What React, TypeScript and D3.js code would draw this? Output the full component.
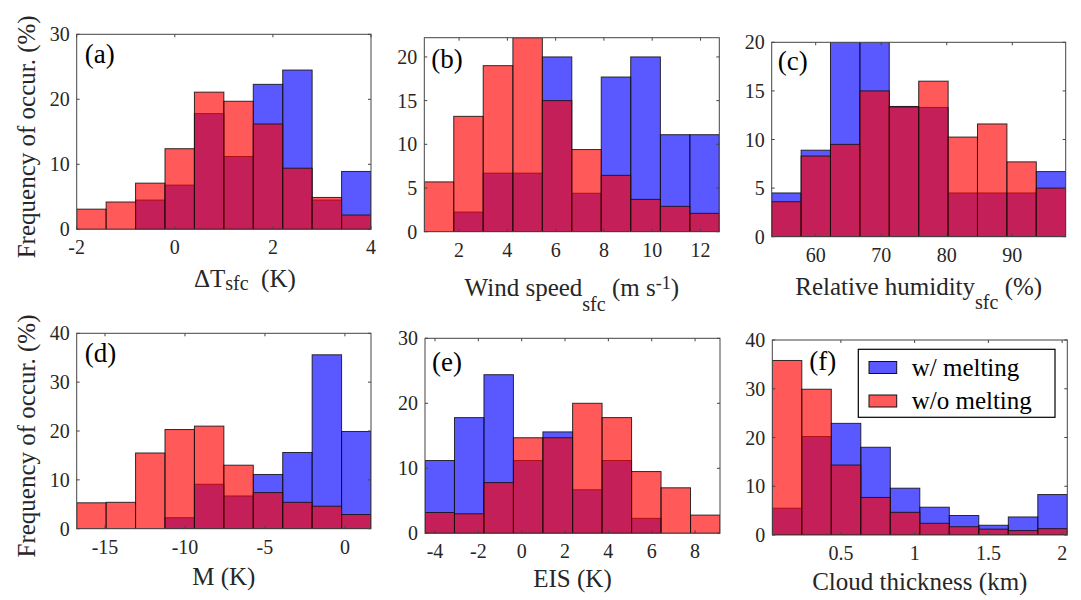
import * as d3 from 'd3';

// bin edges (10 bins per panel)
const edgesA = [-2, -1.4, -0.8, -0.2, 0.4, 1.0, 1.6, 2.2, 2.8, 3.4, 4.0];
const edgesB = [0.56, 1.78, 3.0, 4.23, 5.45, 6.67, 7.89, 9.11, 10.34, 11.56, 12.78];
const edgesC = [53.29, 57.78, 62.26, 66.75, 71.23, 75.72, 80.21, 84.69, 89.18, 93.66, 98.15];
const edgesD = [-16.77, -14.93, -13.09, -11.25, -9.41, -7.57, -5.73, -3.89, -2.05, -0.21, 1.63];
const edgesE = [-4.46, -3.1, -1.74, -0.38, 0.98, 2.35, 3.71, 5.07, 6.43, 7.79, 9.15];
const edgesF = [0.035, 0.235, 0.435, 0.635, 0.835, 1.035, 1.235, 1.435, 1.635, 1.835, 2.035];

// frequency of occurrence (%) with melting (blue) / without melting (red)
const blueA = [0, 0, 4.5, 6.8, 17.8, 11.2, 22.3, 24.5, 4.5, 8.9];
const redA = [3.1, 4.2, 7.1, 12.4, 21.1, 19.7, 16.2, 9.4, 4.9, 2.2];
const blueB = [0, 2.25, 6.7, 6.7, 20.0, 4.4, 17.7, 20.0, 11.1, 11.1];
const redB = [5.7, 13.2, 19.0, 22.2, 15.0, 9.4, 6.45, 3.7, 2.9, 2.1];
const blueC = [4.5, 8.9, 22.2, 22.2, 13.4, 13.3, 4.5, 4.5, 4.5, 6.7];
const redC = [3.6, 8.3, 9.5, 15.0, 13.35, 16.0, 10.25, 11.6, 7.7, 5.0];
const blueD = [0, 0, 0, 2.25, 9.1, 6.7, 11.1, 15.6, 35.6, 19.9];
const redD = [5.3, 5.4, 15.5, 20.3, 21.0, 13.0, 7.4, 5.4, 4.6, 2.9];
const blueE = [11.2, 17.8, 24.4, 11.2, 15.6, 6.7, 11.2, 2.3, 0, 0];
const redE = [3.2, 3.0, 7.8, 14.7, 14.7, 20.0, 17.8, 9.5, 7.0, 2.8];
const blueF = [5.5, 20.2, 22.9, 18.0, 9.6, 5.7, 4.0, 2.0, 3.7, 8.3];
const redF = [35.8, 29.9, 14.35, 7.7, 4.65, 2.4, 1.7, 1.2, 0.9, 1.3];

// tick values
const xTicksA = [-2, 0, 2, 4];
const xTicksB = [2, 4, 6, 8, 10, 12];
const xTicksC = [60, 70, 80, 90];
const xTicksD = [-15, -10, -5, 0];
const xTicksE = [-4, -2, 0, 2, 4, 6, 8];
const xTicksF = [0.5, 1, 1.5, 2];
const yTicks30 = [0, 10, 20, 30];
const yTicks20 = [0, 5, 10, 15, 20];
const yTicks40 = [0, 10, 20, 30, 40];

const legendLabels = ['w/ melting', 'w/o melting'];

const FONT = '"Liberation Serif", "Times New Roman", serif';
const INK = '#262626';
const BLUE = 'rgb(0,0,255)';
const RED = 'rgb(255,0,0)';
const ALPHA = 0.65;

interface Panel {
  id: string;
  box: [number, number, number, number]; // left, top, right, bottom
  edges: number[];
  yMax: number;
  xTicks: number[];
  yTicks: number[];
  blue: number[];
  red: number[];
  tagDx: number;
  tagDy: number;
  labelDx: number;
  labelDy: number;
  yLabel: boolean;
}

const panels: Panel[] = [
  { id: 'a', box: [76.7, 34.3, 371, 229.3], edges: edgesA, yMax: 30, xTicks: xTicksA, yTicks: yTicks30, blue: blueA, red: redA, tagDx: 8, tagDy: 29, labelDx: 21, labelDy: 58, yLabel: true },
  { id: 'b', box: [424.3, 37.7, 719.3, 231.7], edges: edgesB, yMax: 22.2, xTicks: xTicksB, yTicks: yTicks20, blue: blueB, red: redB, tagDx: 7, tagDy: 30, labelDx: 0, labelDy: 64, yLabel: false },
  { id: 'c', box: [771.7, 42.3, 1065.7, 236.7], edges: edgesC, yMax: 20, xTicks: xTicksC, yTicks: yTicks20, blue: blueC, red: redC, tagDx: 6, tagDy: 28, labelDx: 0, labelDy: 58, yLabel: false },
  { id: 'd', box: [76.7, 333.3, 371, 528.7], edges: edgesD, yMax: 40, xTicks: xTicksD, yTicks: yTicks40, blue: blueD, red: redD, tagDx: 8, tagDy: 29, labelDx: 0, labelDy: 56, yLabel: true },
  { id: 'e', box: [425, 338.3, 720, 533.3], edges: edgesE, yMax: 30, xTicks: xTicksE, yTicks: yTicks30, blue: blueE, red: redE, tagDx: 7, tagDy: 33, labelDx: 0, labelDy: 54, yLabel: false },
  { id: 'f', box: [772.3, 340, 1067.3, 535], edges: edgesF, yMax: 40, xTicks: xTicksF, yTicks: yTicks40, blue: blueF, red: redF, tagDx: 37, tagDy: 30, labelDx: 0, labelDy: 55, yLabel: false },
];

function XLabel({ id }: { id: string }) {
  const sub = { fontSize: 20 };
  if (id === 'a')
    return (
      <>
        ΔT<tspan dy={3} style={sub}>sfc</tspan>
        <tspan dy={-3}>{'  (K)'}</tspan>
      </>
    );
  if (id === 'b')
    return (
      <>
        Wind speed<tspan dy={15} style={sub}>sfc</tspan>
        <tspan dy={-15}> (m s</tspan>
        <tspan dy={-7} style={{ fontSize: 18 }}>-1</tspan>
        <tspan dy={7}>)</tspan>
      </>
    );
  if (id === 'c')
    return (
      <>
        Relative humidity<tspan dy={14} style={sub}>sfc</tspan>
        <tspan dy={-14}> (%)</tspan>
      </>
    );
  if (id === 'd') return <>M (K)</>;
  if (id === 'e') return <>EIS (K)</>;
  return <>Cloud thickness (km)</>;
}

function Hist({ p }: { p: Panel }) {
  const [l, t, r, b] = p.box;
  const x = d3.scaleLinear().domain([p.edges[0], p.edges[p.edges.length - 1]]).range([l, r]);
  const y = d3.scaleLinear().domain([0, p.yMax]).range([b, t]);
  const clipId = `clip-${p.id}`;
  const bars = (vals: number[], color: string) =>
    vals.map((v, i) =>
      v > 0 ? (
        <rect
          key={i}
          x={x(p.edges[i])}
          y={y(v)}
          width={x(p.edges[i + 1]) - x(p.edges[i])}
          height={b - y(v)}
          fill={color}
          fillOpacity={ALPHA}
          stroke="#111"
          strokeOpacity={0.85}
          strokeWidth={1}
        />
      ) : null
    );
  const tl = 3;
  return (
    <g>
      <defs>
        <clipPath id={clipId}>
          <rect x={l} y={t} width={r - l} height={b - t} />
        </clipPath>
      </defs>
      <g clipPath={`url(#${clipId})`}>
        {bars(p.blue, BLUE)}
        {bars(p.red, RED)}
      </g>
      {/* box */}
      <rect x={l} y={t} width={r - l} height={b - t} fill="none" stroke="#444" strokeWidth={1} />
      {/* ticks */}
      {p.xTicks.map((v) => (
        <g key={'x' + v}>
          <line x1={x(v)} x2={x(v)} y1={b} y2={b - tl} stroke="#444" />
          <line x1={x(v)} x2={x(v)} y1={t} y2={t + tl} stroke="#444" />
          <text x={x(v)} y={b + 25} textAnchor="middle" fontSize={20} fill={INK}>
            {String(v)}
          </text>
        </g>
      ))}
      {p.yTicks.map((v) => (
        <g key={'y' + v}>
          <line x1={l} x2={l + tl} y1={y(v)} y2={y(v)} stroke="#444" />
          <line x1={r} x2={r - tl} y1={y(v)} y2={y(v)} stroke="#444" />
          <text x={l - 7} y={y(v)} dy="0.35em" textAnchor="end" fontSize={20} fill={INK}>
            {String(v)}
          </text>
        </g>
      ))}
      <text x={l + p.tagDx} y={t + p.tagDy} fontSize={27} fill="#000">
        ({p.id})
      </text>
      <text
        x={(l + r) / 2 + p.labelDx}
        y={b + p.labelDy}
        textAnchor="middle"
        fontSize={25}
        fill={INK}
        style={{ whiteSpace: 'pre' }}
      >
        <XLabel id={p.id} />
      </text>
      {p.yLabel && (
        <text
          transform={`translate(35,${(t + b) / 2 + 5}) rotate(-90)`}
          textAnchor="middle"
          fontSize={25}
          fill={INK}
        >
          Frequency of occur. (%)
        </text>
      )}
    </g>
  );
}

function Legend() {
  const colors = [BLUE, RED];
  return (
    <g>
      <rect x={858.3} y={349.3} width={196.7} height={68} fill="#fff" stroke="#000" strokeWidth={1.2} />
      {legendLabels.map((lab, i) => (
        <g key={lab} transform={`translate(869,${367.5 + i * 33.5})`}>
          <rect x={0} y={-6} width={27.7} height={12} fill={colors[i]} fillOpacity={ALPHA} stroke="#111" />
          <text x={42.7} y={8} fontSize={25} fill="#000">
            {lab}
          </text>
        </g>
      ))}
    </g>
  );
}

export default function App() {
  return (
    <svg
      width={1081}
      height={600}
      style={{ position: 'absolute', left: 0, top: 0, background: '#fff' }}
      fontFamily={FONT}
    >
      <rect width={1081} height={600} fill="#fff" />
      {panels.map((p) => (
        <Hist key={p.id} p={p} />
      ))}
      <Legend />
    </svg>
  );
}
